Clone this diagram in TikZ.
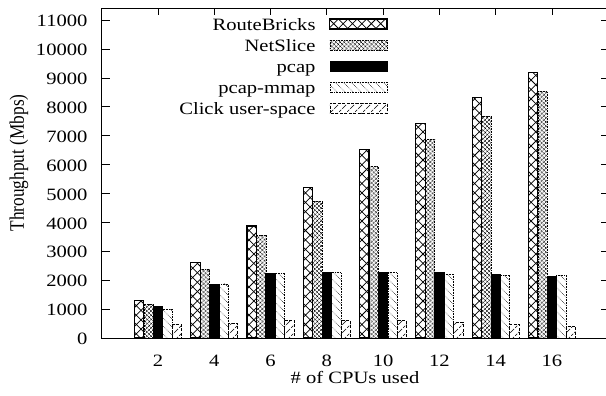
\documentclass[tikz,border=0pt]{standalone}
\usepackage{fontspec}
\setmainfont{Liberation Serif}
\usepackage{tikz}
\usetikzlibrary{patterns.meta}

\newcommand{\wide}[1]{\scalebox{1.19}[1]{#1}}

\tikzdeclarepattern{name=bigcross, type=uncolored,
	bounding box={(-1pt,-1pt) and (10.4pt,10.4pt)}, tile size={(9.4pt,9.4pt)},
	code={\draw[line width=0.75pt] (0pt,0pt) -- (9.4pt,9.4pt) (0pt,9.4pt) -- (9.4pt,0pt);}}
\tikzdeclarepattern{name=smallcross, type=uncolored,
	bounding box={(-1pt,-1pt) and (5.2pt,5.2pt)}, tile size={(4.2pt,4.2pt)},
	code={\draw[line width=0.75pt] (0pt,0pt) -- (4.2pt,4.2pt) (0pt,4.2pt) -- (4.2pt,0pt);}}
\tikzdeclarepattern{name=backlines, type=uncolored,
	bounding box={(-0.5pt,-0.5pt) and (8.5pt,8.5pt)}, tile size={(8pt,8pt)},
	code={\draw[line width=0.45pt] (0pt,8pt) -- (8pt,0pt);}}
\tikzdeclarepattern{name=fwdlines, type=uncolored,
	bounding box={(-0.5pt,-0.5pt) and (8.5pt,8.5pt)}, tile size={(8pt,8pt)},
	code={\draw[line width=0.45pt] (0pt,0pt) -- (8pt,8pt);}}

\begin{document}
\begin{tikzpicture}[x=28.14pt,y=28.9pt,line join=miter]
	\tikzset{lab/.style={inner sep=0pt,font=\fontsize{17.3}{20}\selectfont},
		rbbar/.style={draw,line width=1.1pt,pattern=bigcross},
		nsbar/.style={draw,line width=0.6pt,densely dotted,pattern=smallcross},
		pcbar/.style={draw,line width=0.8pt,fill=black},
		mmbar/.style={draw,line width=0.6pt,densely dotted,pattern=backlines},
		ckbar/.style={draw,line width=0.6pt,dash pattern=on 3pt off 1.5pt,pattern=fwdlines}}
	\useasboundingbox (-3.614,-1.972) rectangle (17.921,11.696);
	\def\bw{0.334}

	% ticks and tick labels
	\foreach \k in {0,...,11} {
		\draw[line width=0.7pt] (0,\k) -- (0.28,\k) (18,\k) -- (17.75,\k);
		\node[lab,anchor=base east] (yt\k) at (-0.5,\k-0.23) {\wide{\ifnum\k=0 0\else\k000\fi}};
	}
	\foreach \n in {2,4,...,16} {
		\draw[line width=0.7pt] (\n,0) -- (\n,0.22) (\n,11.4) -- (\n,11.18);
		\node[lab,anchor=base] (xt\n) at (\n,-0.97) {\wide{\n}};
	}
	\node[lab,anchor=base] (xtitle) at (9,-1.58) {\wide{\# of CPUs used}};
	\node[lab,rotate=90] (ytitle) at (-2.94,6.06) {\scalebox{1}[1.19]{Throughput (Mbps)}};

	% bars
	\foreach \n/\rb/\ns/\pc/\mm/\ck in {2/1.29/1.176/1.107/1.0/0.474, 4/2.605/2.377/1.858/1.87/0.508,
		6/3.875/3.564/2.238/2.238/0.623, 8/5.215/4.716/2.26/2.26/0.6, 10/6.529/5.927/2.26/2.26/0.6,
		12/7.43/6.875/2.26/2.215/0.543, 14/8.329/7.657/2.204/2.18/0.484, 16/9.18/8.522/2.145/2.18/0.415} {
		\draw[rbbar] ({\n-2.5*\bw},0) rectangle ({\n-1.5*\bw},\rb);
		\draw[nsbar] ({\n-1.5*\bw},0) rectangle ({\n-0.5*\bw},\ns);
		\draw[pcbar] ({\n-0.5*\bw},0) rectangle ({\n+0.5*\bw},\pc);
		\draw[mmbar] ({\n+0.5*\bw},0) rectangle ({\n+1.5*\bw},\mm);
		\draw[ckbar] ({\n+1.5*\bw},0) rectangle ({\n+2.5*\bw},\ck);
	}

	% key
	\foreach \s/\txt [count=\i from 0] in {rbbar/RouteBricks, nsbar/NetSlice, pcbar/pcap,
		mmbar/pcap-mmap, ckbar/Click user-space} {
		\pgfmathsetmacro\ky{10.865-0.73*\i}
		\node[lab,anchor=base east] (key\i) at (7.605,\ky-0.225) {\wide{\txt}};
		\draw[\s] (8.11,\ky-0.173) rectangle (10.14,\ky+0.173);
	}

	\draw[line width=1pt] (0,0) rectangle (18,11.4);
\end{tikzpicture}
\end{document}
